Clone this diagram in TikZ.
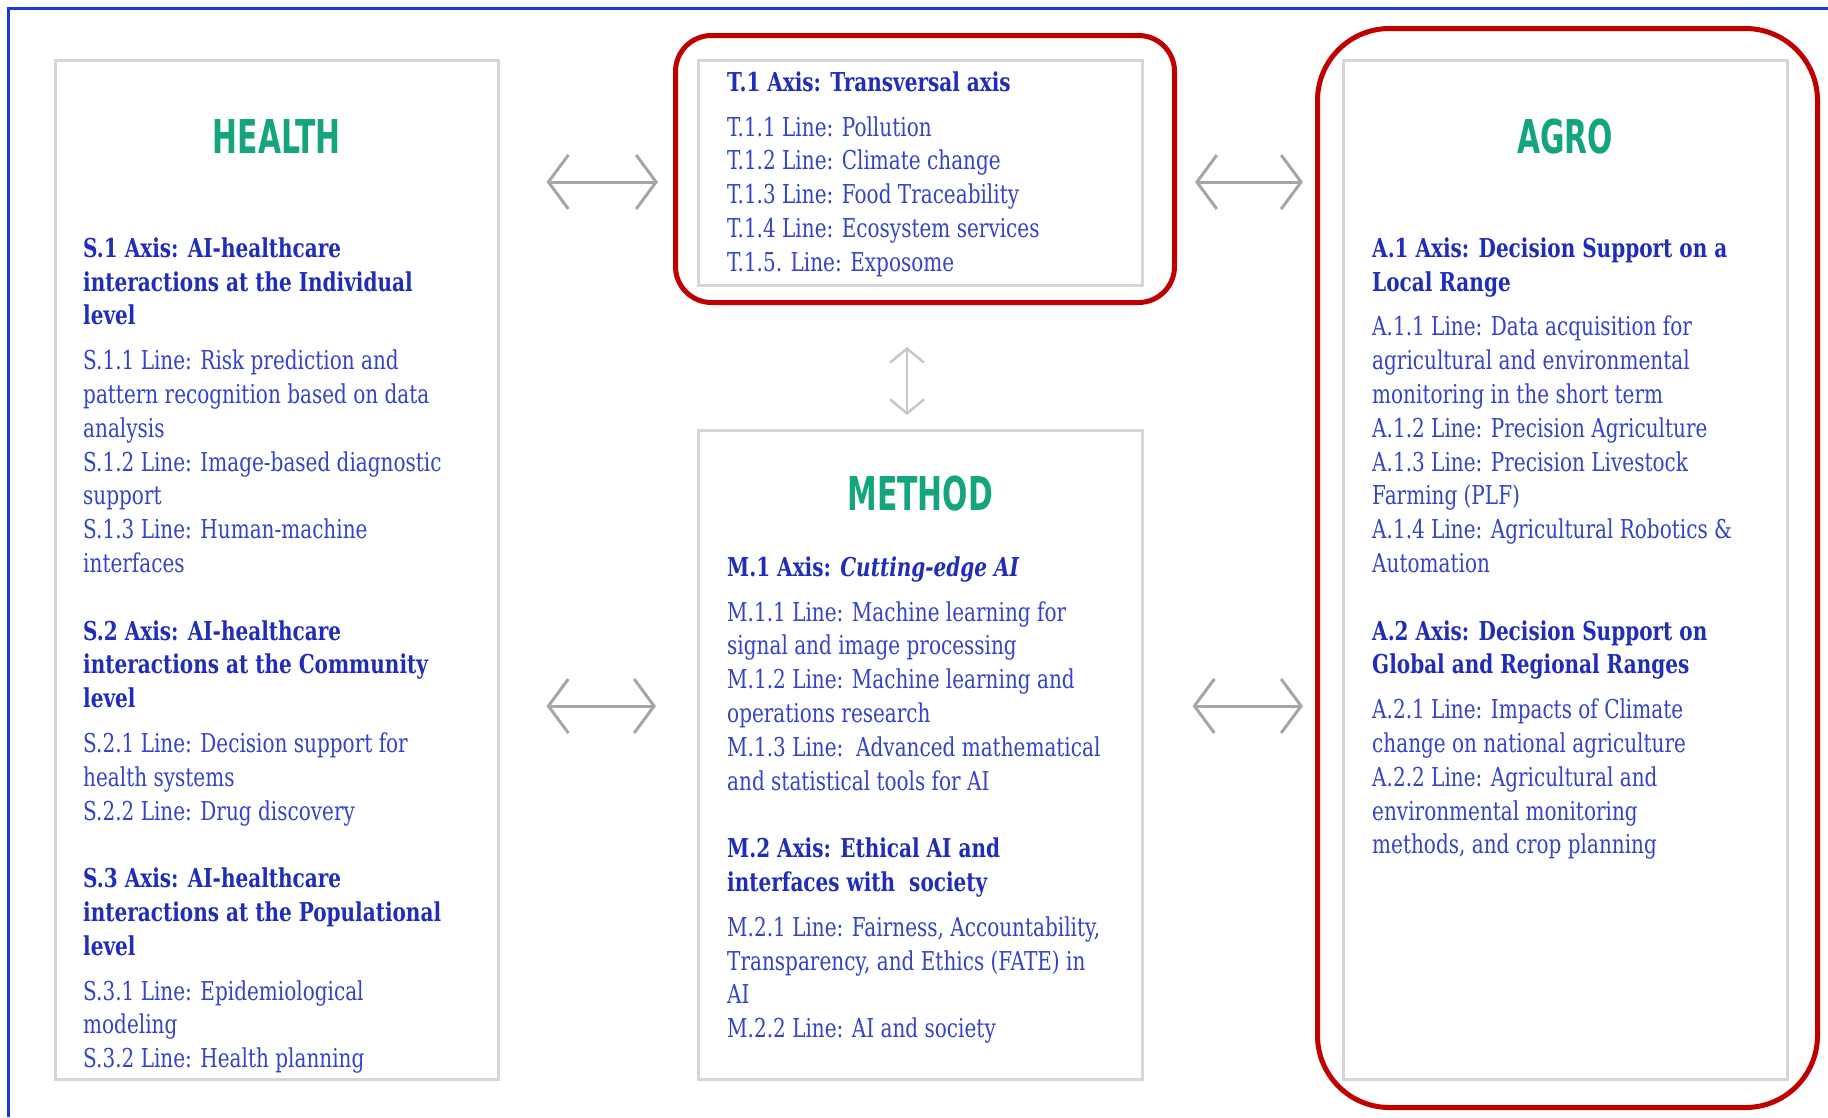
\documentclass[tikz,border=0pt]{standalone}
\usepackage{fontspec}
\setmainfont{DejaVu Serif}[FakeStretch=0.77]
\newfontfamily\headfont{DejaVu Sans}[FakeStretch=0.64]
\usetikzlibrary{positioning, arrows.meta, calc}
\definecolor{axis-green}{HTML}{14A57E}
\definecolor{axis-blue}{HTML}{1F2DB8}
\definecolor{line-blue}{HTML}{3443C8}
\definecolor{frame-red}{HTML}{C00000}
\definecolor{frame-blue}{HTML}{1A3CD6}
\newcommand{\axhead}[1]{{\bfseries\color{axis-blue}#1}}
\newcommand{\firstl}{\rule{0pt}{24pt}}

\begin{document}
\begin{tikzpicture}[x=1pt, y=-1pt,
    panel/.style={draw=black!16, line width=2.5pt, fill=white, inner sep=0pt, anchor=north west},
    redframe/.style={draw=frame-red, line width=5pt, inner sep=0pt, anchor=north west},
    head/.style={font=\headfont\bfseries\fontsize{46.6}{50}\selectfont, text=axis-green, inner sep=0pt},
    txt/.style={inner sep=0pt, align=left, text=line-blue, font=\fontsize{26}{33.8}\selectfont},
    biarrow/.style={draw=black!35, line width=3pt,
      {Straight Barb[length=20pt,width=54pt]}-{Straight Barb[length=20pt,width=54pt]}},
    vbiarrow/.style={draw=black!22, line width=2.5pt,
      {Straight Barb[length=14pt,width=34pt]}-{Straight Barb[length=14pt,width=34pt]}}]
  \useasboundingbox (0,0) rectangle (1828,1117);
  \draw[frame-blue, line width=3pt] (8,1117) |- (1828,8);

  % the four boxes
  \node[panel, minimum width=443pt, minimum height=1019pt] (health) at (54,59) {};
  \node[panel, minimum width=444pt, minimum height=225pt] (tbox) at (697,59) {};
  \node[panel, minimum width=444pt, minimum height=649pt] (method) at (697,429) {};
  \node[panel, minimum width=444pt, minimum height=1019pt] (agro) at (1342,59) {};
  \node[redframe, rounded corners=36pt, minimum width=499pt, minimum height=267pt] (tframe) at (673,33) {};
  \node[redframe, rounded corners=72pt, minimum width=500pt, minimum height=1079pt] (aframe) at (1315,26) {};

  \node[head, below=60pt of health.north] (healthhead) {HEALTH};
  \node[head, below=60pt of agro.north] (agrohead) {AGRO};
  \node[head, below=47pt of method.north] (methodhead) {METHOD};

  \node[txt, below right=174pt and 29pt of health.north west] (healthtxt) {%
    \firstl\axhead{S.1 Axis: AI-healthcare}\\
    \axhead{interactions at the Individual}\\
    \axhead{level}\\[11pt]
    S.1.1 Line: Risk prediction and\\
    pattern recognition based on data\\
    analysis\\
    S.1.2 Line: Image-based diagnostic\\
    support\\
    S.1.3 Line: Human-machine\\
    interfaces\\[33.8pt]
    \axhead{S.2 Axis: AI-healthcare}\\
    \axhead{interactions at the Community}\\
    \axhead{level}\\[11pt]
    S.2.1 Line: Decision support for\\
    health systems\\
    S.2.2 Line: Drug discovery\\[33.8pt]
    \axhead{S.3 Axis: AI-healthcare}\\
    \axhead{interactions at the Populational}\\
    \axhead{level}\\[11pt]
    S.3.1 Line: Epidemiological\\
    modeling\\
    S.3.2 Line: Health planning};

  \node[txt, below right=8pt and 30pt of tbox.north west] (ttxt) {%
    \firstl\axhead{T.1 Axis: Transversal axis}\\[11pt]
    T.1.1 Line: Pollution\\
    T.1.2 Line: Climate change\\
    T.1.3 Line: Food Traceability\\
    T.1.4 Line: Ecosystem services\\
    T.1.5. Line: Exposome};

  \node[txt, below right=123pt and 30pt of method.north west] (methodtxt) {%
    \firstl\axhead{M.1 Axis: \itshape Cutting-edge AI}\\[11pt]
    M.1.1 Line: Machine learning for\\
    signal and image processing\\
    M.1.2 Line: Machine learning and\\
    operations research\\
    M.1.3 Line:\ \ Advanced mathematical\\
    and statistical tools for AI\\[33.8pt]
    \axhead{M.2 Axis: Ethical AI and}\\
    \axhead{interfaces with\ \ society}\\[11pt]
    M.2.1 Line: Fairness, Accountability,\\
    Transparency, and Ethics (FATE) in\\
    AI\\
    M.2.2 Line: AI and society};

  \node[txt, below right=174pt and 30pt of agro.north west] (agrotxt) {%
    \firstl\axhead{A.1 Axis: Decision Support on a}\\
    \axhead{Local Range}\\[11pt]
    A.1.1 Line: Data acquisition for\\
    agricultural and environmental\\
    monitoring in the short term\\
    A.1.2 Line: Precision Agriculture\\
    A.1.3 Line: Precision Livestock\\
    Farming (PLF)\\
    A.1.4 Line: Agricultural Robotics \&\\
    Automation\\[33.8pt]
    \axhead{A.2 Axis: Decision Support on}\\
    \axhead{Global and Regional Ranges}\\[11pt]
    A.2.1 Line: Impacts of Climate\\
    change on national agriculture\\
    A.2.2 Line: Agricultural and\\
    environmental monitoring\\
    methods, and crop planning};

  % links between the boxes
  \draw[biarrow, shorten <=47pt, shorten >=15pt] (health.east |- 0,182) -- (tframe.west |- 0,182);
  \draw[biarrow, shorten <=18pt, shorten >=12pt] (tframe.east |- 0,182) -- (aframe.west |- 0,182);
  \draw[biarrow, shorten <=47pt, shorten >=41pt] (health.east |- 0,706) -- (method.west |- 0,706);
  \draw[biarrow, shorten <=49pt, shorten >=12pt] (method.east |- 0,706) -- (aframe.west |- 0,706);
  \draw[vbiarrow, shorten <=42pt, shorten >=14pt] (tframe.south -| 907,0) -- (method.north -| 907,0);
\end{tikzpicture}
\end{document}
